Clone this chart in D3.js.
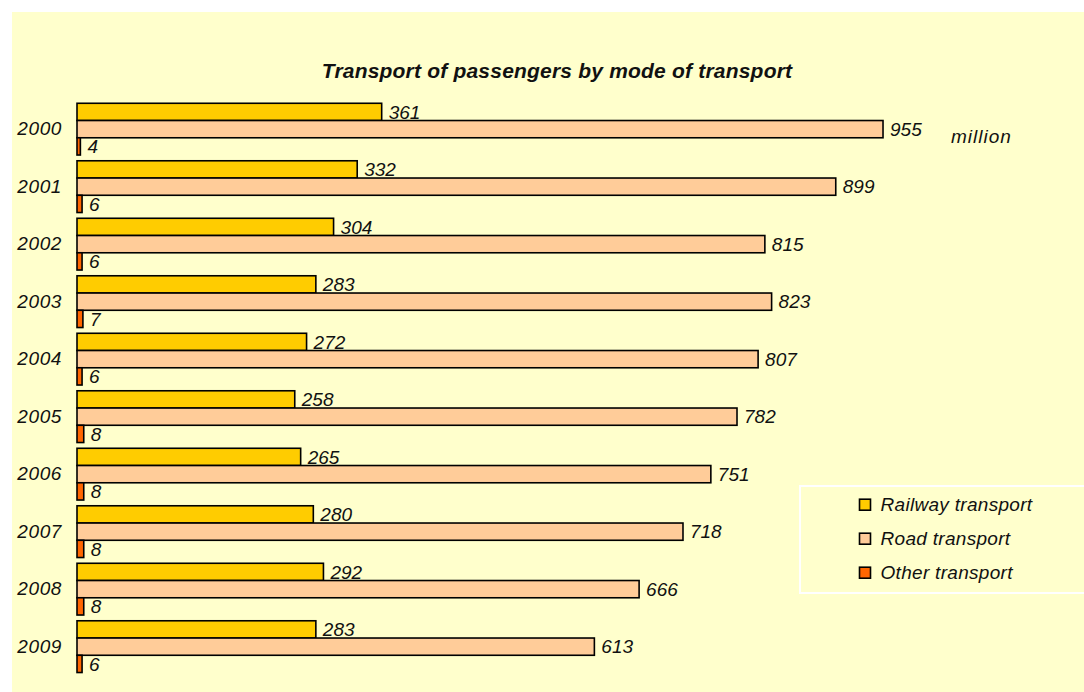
<!DOCTYPE html>
<html>
<head>
<meta charset="utf-8">
<script src="https://cdn.jsdelivr.net/npm/d3@7"></script>
<style>
  body { margin: 0; background: #fff; }
  text { font-family: "Liberation Sans", Arial, sans-serif; font-style: italic; fill: #111; }
</style>
</head>
<body>
<div id="chart"></div>
<script>
// data (million passengers)
var years = ["2000", "2001", "2002", "2003", "2004", "2005", "2006", "2007", "2008", "2009"];
var series = ["Railway transport", "Road transport", "Other transport"];
var railway = [361, 332, 304, 283, 272, 258, 265, 280, 292, 283];
var road = [955, 899, 815, 823, 807, 782, 751, 718, 666, 613];
var other = [4, 6, 6, 7, 6, 8, 8, 8, 8, 6];
var colors = ["#FFCC00", "#FFCC99", "#FF6600"];

var width = 1084, height = 692;

var svg = d3.select("#chart")
  .append("svg")
  .attr("width", width)
  .attr("height", height);

// yellow panel
svg.append("rect")
  .attr("x", 12).attr("y", 12)
  .attr("width", width - 12).attr("height", height - 12)
  .attr("fill", "#FFFFCC");

// title
svg.append("text")
  .attr("x", 557).attr("y", 78)
  .attr("text-anchor", "middle")
  .style("font-weight", "bold")
  .style("font-size", "21px")
  .style("letter-spacing", "0.2px")
  .text("Transport of passengers by mode of transport");

var x = d3.scaleLinear().domain([0, 1000]).range([77, 921]);

var y0 = d3.scaleBand()
  .domain(years)
  .range([100.4, 675.4])
  .paddingInner(0.1)
  .paddingOuter(0.05);

var y1 = d3.scaleBand()
  .domain(series)
  .range([0, y0.bandwidth()]);

// one row per year with the three values
var rows = years.map(function(yr, i) {
  return { year: yr, values: [railway[i], road[i], other[i]] };
});

var groups = svg.selectAll(".year")
  .data(rows)
  .enter()
  .append("g")
  .attr("class", "year")
  .attr("transform", function(d) { return "translate(0," + y0(d.year) + ")"; });

var cells = groups.selectAll(".cell")
  .data(function(d) {
    return d.values.map(function(v, j) { return { name: series[j], value: v, color: colors[j] }; });
  })
  .enter()
  .append("g")
  .attr("class", "cell");

cells.append("rect")
  .attr("x", x(0))
  .attr("y", function(d) { return y1(d.name); })
  .attr("width", function(d) { return x(d.value) - x(0); })
  .attr("height", y1.bandwidth())
  .attr("fill", function(d) { return d.color; })
  .attr("stroke", "#000")
  .attr("stroke-width", 1.6);

cells.append("text")
  .attr("x", function(d) { return x(d.value) + 7; })
  .attr("y", function(d) { return y1(d.name) + y1.bandwidth() / 2; })
  .attr("dy", "0.35em")
  .style("font-size", "19px")
  .text(function(d) { return d.value; });

// year labels
var yAxis = svg.append("g")
  .attr("transform", "translate(" + (x(0) - 15) + ",0)")
  .call(d3.axisLeft(y0).tickSize(0).tickPadding(0));
yAxis.select(".domain").remove();
yAxis.selectAll("text")
  .attr("fill", null)
  .style("font-size", "19px")
  .style("letter-spacing", "0.6px")
  .style("font-family", null);

// unit
svg.append("text")
  .attr("x", 951).attr("y", 143)
  .style("font-size", "19px")
  .style("letter-spacing", "1px")
  .text("million");

// legend
var legend = svg.append("g");
legend.append("rect")
  .attr("x", 800).attr("y", 486)
  .attr("width", 290).attr("height", 107)
  .attr("fill", "none")
  .attr("stroke", "#fff")
  .attr("stroke-width", 2);

var items = legend.selectAll(".item")
  .data(series)
  .enter()
  .append("g")
  .attr("class", "item")
  .attr("transform", function(d, i) { return "translate(859.5," + (504.7 + i * 34) + ")"; });

items.append("rect")
  .attr("x", 0).attr("y", -5.5)
  .attr("width", 11).attr("height", 11)
  .attr("fill", function(d, i) { return colors[i]; })
  .attr("stroke", "#000")
  .attr("stroke-width", 1.6);

items.append("text")
  .attr("x", 21).attr("y", 0)
  .attr("dy", "0.35em")
  .style("font-size", "19px")
  .style("letter-spacing", "0.3px")
  .text(function(d) { return d; });
</script>
</body>
</html>
